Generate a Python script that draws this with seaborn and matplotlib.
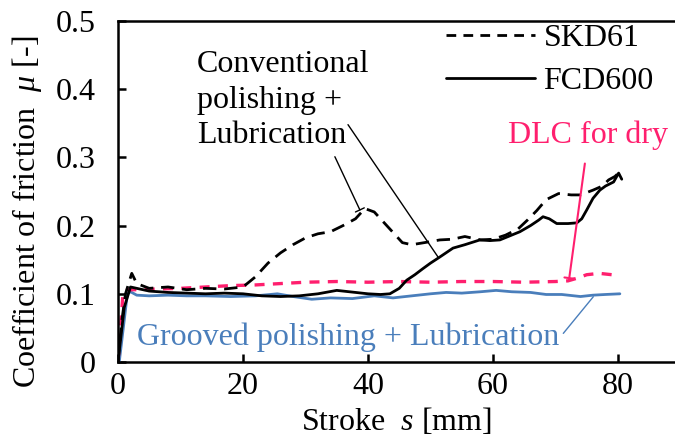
import numpy as np
import pandas as pd
import matplotlib
matplotlib.use("Agg")
import matplotlib.pyplot as plt
import seaborn as sns
from matplotlib.lines import Line2D

# ---------------- data ----------------
skd_conv_x = [0, 0.6, 1.2, 2.2, 3, 5, 8, 11, 14, 17, 20, 22, 24, 26, 28, 30, 32, 34, 36, 38, 39.5,
              41, 42.5, 44, 45.5, 47, 49, 51.5, 53.5, 55.5, 58, 60, 62, 64, 65.5, 67, 68.5, 70.5,
              72.5, 74, 76, 77.5, 78.5, 79.5, 80.3]
skd_conv_y = [0, 0.06, 0.1, 0.13, 0.115, 0.108, 0.11, 0.106, 0.108, 0.107, 0.11, 0.125, 0.145, 0.16,
              0.172, 0.182, 0.188, 0.191, 0.2, 0.21, 0.225, 0.22, 0.205, 0.19, 0.175, 0.172, 0.175,
              0.179, 0.18, 0.184, 0.179, 0.18, 0.186, 0.195, 0.208, 0.222, 0.238, 0.247, 0.245,
              0.245, 0.252, 0.258, 0.267, 0.272, 0.279]

fcd_conv_x = [0, 1, 2, 3, 5, 8, 11, 14, 17, 20, 23, 26, 29, 32, 35, 37, 40, 42, 43.5, 45, 46.2,
              47.5, 48.8, 50, 51.5, 53.6, 55.5, 57.9, 59.5, 61.1, 62.7, 64.3, 66, 67.3, 68, 69,
              70.2, 72, 73.4, 74.2, 75, 76, 77.1, 78, 79.3, 80.1, 80.6]
fcd_conv_y = [0, 0.08, 0.11, 0.108, 0.104, 0.102, 0.101, 0.1, 0.101, 0.1, 0.097, 0.096, 0.097, 0.1,
              0.105, 0.103, 0.1, 0.099, 0.1, 0.108, 0.12, 0.128, 0.137, 0.145, 0.154, 0.167, 0.172,
              0.179, 0.178, 0.179, 0.185, 0.191, 0.2, 0.208, 0.213, 0.21, 0.203, 0.203, 0.204,
              0.21, 0.223, 0.24, 0.252, 0.258, 0.264, 0.277, 0.268]

dlc_x = [0, 0.8, 1.5, 3, 6, 10, 14, 18, 22, 26, 30, 35, 40, 45, 50, 55, 60, 65, 70, 72, 73.5, 75,
         77, 79, 80]
dlc_y = [0, 0.1, 0.106, 0.106, 0.107, 0.108, 0.11, 0.112, 0.113, 0.115, 0.117, 0.118, 0.117, 0.118,
         0.117, 0.118, 0.118, 0.117, 0.118, 0.119, 0.123, 0.128, 0.13, 0.128, 0.129]

grooved_x = [0.2, 1.5, 2, 3, 5, 8, 11, 14, 18, 22, 25.5, 28, 31, 34, 37.5, 41, 44, 47, 50, 52.5,
             55, 58, 60.5, 63, 66, 68.5, 71, 74, 76, 78, 80.3]
grooved_y = [0, 0.1, 0.103, 0.098, 0.097, 0.098, 0.097, 0.097, 0.096, 0.097, 0.1, 0.096, 0.092,
             0.094, 0.093, 0.097, 0.094, 0.097, 0.1, 0.102, 0.101, 0.103, 0.105, 0.103, 0.102,
             0.099, 0.099, 0.096, 0.098, 0.099, 0.1]

x_ticks = [0, 20, 40, 60, 80]
y_ticks = [0, 0.1, 0.2, 0.3, 0.4, 0.5]
y_tick_labels = ["0", "0.1", "0.2", "0.3", "0.4", "0.5"]
legend_labels = ["SKD61", "FCD600"]

# ---------------- style ----------------
sns.set_style("ticks")
plt.rcParams["font.family"] = ["Liberation Serif", "DejaVu Serif"]
plt.rcParams["mathtext.fontset"] = "custom"
plt.rcParams["mathtext.rm"] = "Liberation Serif"
plt.rcParams["mathtext.it"] = "Liberation Serif:italic"
plt.rcParams["text.color"] = "black"
plt.rcParams["axes.labelcolor"] = "black"
plt.rcParams["xtick.color"] = "black"
plt.rcParams["ytick.color"] = "black"

FS = 23
PINK = "#FF1F6E"
BLUE = "#4A7EBB"

fig = plt.figure(figsize=(6.75, 4.41), dpi=100)
W, H = 675, 441
x0, y0, x1, y1 = 118, 362, 675, 21
ax = fig.add_axes([x0 / W, 1 - y0 / H, (x1 - x0) / W, (y0 - y1) / H])

def draw(xs, ys, color, lw, dashes=None):
    df = pd.DataFrame({"x": xs, "y": ys})
    sns.lineplot(data=df, x="x", y="y", ax=ax, color=color, linewidth=lw,
                 estimator=None, sort=False)
    line = ax.lines[-1]
    if dashes is not None:
        line.set_dashes(dashes)
    line.set_solid_capstyle("round")
    line.set_dash_capstyle("butt")

draw(grooved_x, grooved_y, BLUE, 2.0)
draw(dlc_x, dlc_y, PINK, 2.4, (3.0, 2.5))
draw(fcd_conv_x, fcd_conv_y, "black", 2.0)
draw(skd_conv_x, skd_conv_y, "black", 2.0, (4.8, 2.8))

ax.set_xlim(0, (x1 - x0) / 6.25)
ax.set_ylim(0, 0.5)
ax.set_xticks(x_ticks)
ax.set_xticklabels([str(t) for t in x_ticks])
ax.set_yticks(y_ticks)
ax.set_yticklabels(y_tick_labels)
ax.tick_params(axis="both", direction="in", length=6, width=1.8, labelsize=FS,
               colors="black", labelcolor="black")
ax.tick_params(axis="y", pad=16)
ax.tick_params(axis="x", pad=7)
for s in ["left", "bottom", "top"]:
    ax.spines[s].set_linewidth(1.8)
    ax.spines[s].set_color("black")
ax.spines["right"].set_visible(False)

ax.set_xlabel("Stroke  $s$ [mm]", fontsize=FS, labelpad=4, color="black")
ax.set_ylabel("Coefficient of friction  $\\mu$ [-]", fontsize=FS, color="black")
ax.yaxis.set_label_coords(-0.132, 0.44)

# legend
handles = [Line2D([], [], color="black", lw=2.0, dashes=(3.5, 2.6)),
           Line2D([], [], color="black", lw=2.0)]
leg = ax.legend(handles, legend_labels, loc="upper left", bbox_to_anchor=(446 / W, 1 - 24 / H),
                bbox_transform=fig.transFigure, frameon=False, fontsize=FS, handlelength=2.8,
                handletextpad=0.25, labelspacing=0.42, borderpad=0, borderaxespad=0)
for t in leg.get_texts():
    t.set_color("black")

# annotations
ax.text(12.64, 0.384, "Conventional\npolishing +\nLubrication", fontsize=FS, ha="left",
        va="center", linespacing=1.3, color="black")
ax.annotate("", xy=(38.7, 0.223), xytext=(34.7, 0.301),
            arrowprops=dict(arrowstyle="-[, widthB=0.35, lengthB=0", color="black", lw=1.0,
                            shrinkA=0, shrinkB=0))
ax.annotate("", xy=(51.2, 0.154), xytext=(36.8, 0.348),
            arrowprops=dict(arrowstyle="-", color="black", lw=1.0, shrinkA=0, shrinkB=0))

ax.text(75.2, 0.333, "DLC for dry", fontsize=FS, ha="center", va="center", color=PINK)
ax.annotate("", xy=(72.2, 0.123), xytext=(74.7, 0.291),
            arrowprops=dict(arrowstyle="-[, widthB=0.35, lengthB=0", color=PINK, lw=1.5,
                            shrinkA=0, shrinkB=0))

ax.text(3.04, 0.025, "Grooved polishing + Lubrication", fontsize=FS, ha="left", va="baseline",
        color=BLUE)
ax.annotate("", xy=(76.05, 0.0957), xytext=(71.25, 0.042),
            arrowprops=dict(arrowstyle="-", color=BLUE, lw=1.0, shrinkA=0, shrinkB=0))

fig.savefig("out.png", dpi=100)
